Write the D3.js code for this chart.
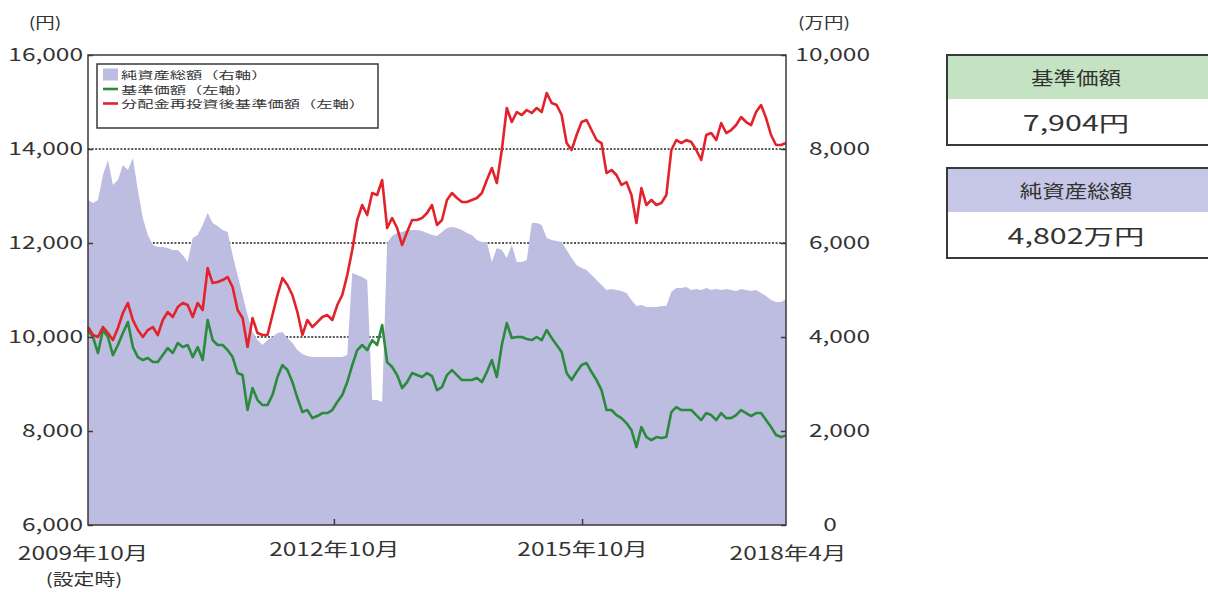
<!DOCTYPE html>
<html>
<head>
<meta charset="utf-8">
<script src="https://cdn.jsdelivr.net/npm/d3@7"></script>
<style>
  html, body { margin: 0; padding: 0; background: #ffffff; }
  svg { display: block; }
  text { font-family: "Noto Sans CJK JP", "Noto Sans", sans-serif; fill: #333; }
</style>
</head>
<body>
<svg id="chart" width="1208" height="592"></svg>
<script>
// ---------------- DATA ----------------
const startDate = "2009-10-12";   // first observation (設定時)
const stepDays = 22;

// 分配金再投資後基準価額 (円, left axis)
const reinvestedNav = [
  10212,10042,10000,10212,10084,9935,10191,10510,10723,10361,
  10148,10000,10148,10212,10042,10361,10531,10425,10637,10723,
  10680,10425,10723,10574,11467,11148,11170,11212,11276,11063,
  10574,10403,9786,10403,10084,10042,10042,10467,10893,11255,
  11106,10893,10531,10042,10361,10212,10318,10425,10467,10361,
  10680,10893,11318,11850,12489,12808,12595,13063,13021,13340,
  12319,12531,12319,11957,12233,12489,12489,12531,12638,12808,
  12382,12489,12914,13063,12957,12872,12872,12914,12957,13063,
  13340,13595,13276,13978,14872,14574,14787,14723,14830,14766,
  14872,14787,15191,14979,14936,14723,14127,13978,14298,14574,
  14617,14404,14191,14127,13489,13553,13446,13234,13297,13021,
  12425,13170,12808,12914,12808,12851,13021,13978,14191,14127,
  14191,14149,13978,13766,14298,14340,14191,14553,14340,14404,
  14510,14681,14574,14510,14787,14936,14659,14298,14085,14085,
  14127
];

// 基準価額 (円, left axis)
const nav = [
  10148,10000,9659,10148,10000,9616,9829,10084,10318,9786,
  9573,9510,9552,9467,9467,9616,9765,9659,9871,9786,
  9829,9573,9786,9510,10361,9935,9829,9829,9722,9573,
  9233,9190,8446,8914,8658,8552,8552,8765,9148,9403,
  9297,9041,8701,8403,8446,8275,8318,8382,8382,8446,
  8616,8765,9041,9403,9722,9829,9722,9935,9829,10254,
  9467,9361,9190,8914,9041,9233,9190,9148,9233,9169,
  8871,8935,9190,9297,9190,9084,9084,9084,9127,9041,
  9254,9510,9148,9829,10297,9978,10000,10000,9956,9935,
  10000,9935,10148,9978,9829,9680,9233,9084,9254,9403,
  9446,9254,9084,8871,8446,8446,8339,8275,8169,8020,
  7658,8084,7871,7807,7871,7850,7871,8403,8509,8446,
  8446,8446,8339,8233,8382,8339,8233,8382,8275,8275,
  8339,8446,8382,8318,8382,8382,8233,8084,7914,7871,
  7904
];

// 純資産総額 (万円, right axis)
const netAssets = [
  6916,6852,6916,7448,7767,7235,7342,7661,7554,7810,
  7129,6533,6171,5958,5916,5916,5895,5852,5852,5746,
  5597,6107,6171,6384,6639,6427,6363,6278,6235,5746,
  5320,4894,4469,4107,3937,3830,3937,4001,4086,4107,
  3979,3873,3724,3639,3596,3575,3575,3575,3575,3575,
  3575,3575,3618,5363,5320,5277,5214,2660,2660,2617,
  6001,6150,6214,6235,6278,6278,6278,6256,6214,6171,
  6150,6235,6320,6341,6320,6278,6214,6171,6065,6022,
  6022,5597,5895,5852,5682,5958,5597,5597,5639,6427,
  6427,6384,6107,6065,6044,6022,5852,5682,5533,5469,
  5426,5320,5214,5107,5001,5022,5001,4980,4937,4788,
  4660,4682,4639,4639,4639,4660,4660,4958,5043,5043,
  5065,5001,5022,5001,5043,5001,5022,5001,5022,5001,
  4980,5022,5001,4980,5001,4937,4873,4788,4745,4745,
  4802
];

const leftTicks = [6000, 8000, 10000, 12000, 14000, 16000];
const rightTicks = [0, 2000, 4000, 6000, 8000, 10000];
const gridValues = [8000, 10000, 12000, 14000];
const xTickDates = ["2012-10-01", "2015-10-01"];
const xTickLabels = ["2012年10月", "2015年10月"];
const xEndLabels = ["2009年10月", "2018年4月"];
const xStartNote = "(設定時)";
const unitLeft = "(円)", unitRight = "(万円)";
const legendLabels = ["純資産総額（右軸）", "基準価額（左軸）", "分配金再投資後基準価額（左軸）"];
const infoTitles = ["基準価額", "純資産総額"];
const infoValues = ["7,904円", "4,802万円"];

// ---------------- LAYOUT ----------------
const plot = { left: 88, right: 786, top: 55, bottom: 525 };
const colArea = "#bcbde0", colNav = "#2b8a3c", colRe = "#e3232b", colFrame = "#3a3a3a";

const parse = d3.timeParse("%Y-%m-%d");
const t0 = parse(startDate);
const dates = nav.map((_, i) => d3.timeDay.offset(t0, i * stepDays));

const x = d3.scaleTime().domain([dates[0], dates[dates.length - 1]]).range([plot.left, plot.right]);
const yL = d3.scaleLinear().domain([6000, 16000]).range([plot.bottom, plot.top]);
const yR = d3.scaleLinear().domain([0, 10000]).range([plot.bottom, plot.top]);

const svg = d3.select("#chart");

// text horizontally stretched like the reference
function stext(g, str, px, py, size, anchor, sx) {
  return g.append("text")
    .attr("transform", `translate(${px},${py}) scale(${sx},1)`)
    .attr("text-anchor", anchor || "start")
    .attr("dominant-baseline", "central")
    .style("font-size", size + "px")
    .text(str);
}

// grid (dotted)
svg.append("g").selectAll("line").data(gridValues).join("line")
  .attr("x1", plot.left).attr("x2", plot.right)
  .attr("y1", d => yL(d)).attr("y2", d => yL(d))
  .attr("stroke", "#222").attr("stroke-width", 1.7)
  .attr("stroke-dasharray", "2,1.6");

// area
const area = d3.area().x((d, i) => x(dates[i])).y0(yR(0)).y1(d => yR(d));
svg.append("path").datum(netAssets).attr("d", area).attr("fill", colArea);

// lines
const lineL = d3.line().x((d, i) => x(dates[i])).y(d => yL(d));
svg.append("path").datum(nav).attr("d", lineL)
  .attr("fill", "none").attr("stroke", colNav).attr("stroke-width", 2.6).attr("stroke-linejoin", "round");
svg.append("path").datum(reinvestedNav).attr("d", lineL)
  .attr("fill", "none").attr("stroke", colRe).attr("stroke-width", 2.6).attr("stroke-linejoin", "round");

// frame
svg.append("rect").attr("x", plot.left).attr("y", plot.top)
  .attr("width", plot.right - plot.left).attr("height", plot.bottom - plot.top)
  .attr("fill", "none").attr("stroke", colFrame).attr("stroke-width", 1.5);

const AX_SIZE = 18, AX_SX = 1.36;

// left axis
const axL = svg.append("g").attr("transform", `translate(${plot.left},0)`)
  .call(d3.axisLeft(yL).tickValues(leftTicks).tickSizeInner(-5).tickSizeOuter(0).tickPadding(5)
    .tickFormat(d3.format(",")));
axL.select(".domain").remove();
axL.selectAll("line").attr("stroke", colFrame).attr("stroke-width", 1.5);
axL.selectAll("text").attr("font-family", null).style("font-size", AX_SIZE + "px").attr("fill", "#333")
  .attr("x", -5 / AX_SX).attr("transform", `scale(${AX_SX},1)`);

// right axis (labels right-aligned at a common edge, "0" sits centred below)
const axR = svg.append("g").attr("transform", `translate(${plot.right},0)`)
  .call(d3.axisRight(yR).tickValues(rightTicks).tickSizeInner(-5).tickSizeOuter(0).tickPadding(84)
    .tickFormat(d3.format(",")));
axR.select(".domain").remove();
axR.selectAll("line").attr("stroke", colFrame).attr("stroke-width", 1.5);
axR.selectAll("text").attr("font-family", null).style("font-size", AX_SIZE + "px").attr("fill", "#333")
  .attr("text-anchor", d => d === 0 ? "middle" : "end")
  .attr("x", d => (d === 0 ? 44 : 84) / AX_SX)
  .attr("transform", `scale(${AX_SX},1)`);

// unit labels
stext(svg, unitLeft, 45, 22, 15, "middle", 1.3);
stext(svg, unitRight, 824, 22, 15, "middle", 1.3);

// bottom axis
const axB = svg.append("g").attr("transform", `translate(0,${plot.bottom})`)
  .call(d3.axisBottom(x).tickValues(xTickDates.map(parse)).tickSizeInner(-6).tickSizeOuter(0).tickPadding(18)
    .tickFormat((d, i) => xTickLabels[i]));
axB.select(".domain").remove();
axB.selectAll("line").attr("stroke", colFrame).attr("stroke-width", 1.5);
axB.selectAll("text").attr("font-family", null).style("font-size", AX_SIZE + "px").attr("fill", "#333")
  .attr("transform", `scale(${AX_SX},1)`);
stext(svg, xEndLabels[0], x(dates[0]) - 5, 552, AX_SIZE, "middle", AX_SX);
stext(svg, xEndLabels[1], x(dates[dates.length - 1]) + 2, 552, AX_SIZE, "middle", AX_SX);
stext(svg, xStartNote, x(dates[0]) - 4, 578, 16, "middle", 1.3);

// legend
const lg = svg.append("g");
lg.append("rect").attr("x", 97).attr("y", 64).attr("width", 281).attr("height", 64)
  .attr("fill", "#fff").attr("stroke", colFrame).attr("stroke-width", 1.5);
const legendColors = [colArea, colNav, colRe];
legendLabels.forEach((lab, i) => {
  const cy = 74.5 + i * 14.5;
  if (i === 0) {
    lg.append("rect").attr("x", 103).attr("y", cy - 6).attr("width", 15).attr("height", 12).attr("fill", legendColors[i]);
  } else {
    lg.append("line").attr("x1", 103).attr("x2", 118).attr("y1", cy).attr("y2", cy)
      .attr("stroke", legendColors[i]).attr("stroke-width", 2.6);
  }
  stext(lg, lab, 121, cy, 10.5, "start", 1.55);
});

// info boxes
const boxes = [
  { y: 55, hh: 44, bh: 46, fill: "#c3e3c3" },
  { y: 168, hh: 44, bh: 46, fill: "#c6c7e6" }
];
boxes.forEach((b, i) => {
  const g = svg.append("g");
  g.append("rect").attr("x", 947).attr("y", b.y).attr("width", 300).attr("height", b.hh).attr("fill", b.fill);
  g.append("rect").attr("x", 947).attr("y", b.y).attr("width", 300).attr("height", b.hh + b.bh)
    .attr("fill", "none").attr("stroke", colFrame).attr("stroke-width", 2);
  stext(g, infoTitles[i], 1076, b.y + b.hh / 2, 18, "middle", 1.25);
  stext(g, infoValues[i], 1076, b.y + b.hh + b.bh / 2, 21, "middle", 1.45);
});
</script>
</body>
</html>
